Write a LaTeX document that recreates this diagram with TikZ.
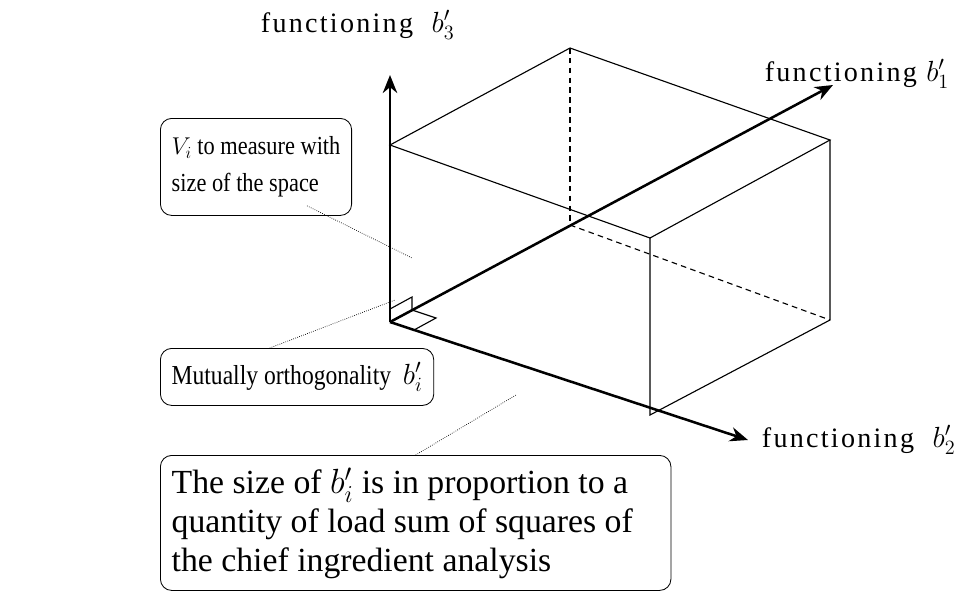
\documentclass[tikz,border=0pt]{standalone}
\usepackage{fontspec}
\setmainfont{Liberation Serif}
\newfontfamily\spacedfont[LetterSpace=8]{Liberation Serif}
\newfontfamily\narrowfont[FakeStretch=0.86]{Liberation Serif}
\usepackage{xcolor}
\usetikzlibrary{arrows.meta,positioning,calc}

\tikzset{
  axis/.style={line width=1.8pt, -{Stealth[length=4.5mm,width=3.6mm]}},
  edge/.style={line width=0.8pt},
  hidden/.style={line width=0.8pt, dashed, dash pattern=on 4pt off 3pt},
  leader/.style={line width=0.5pt, densely dotted},
  callout/.style={draw, line width=0.6pt, rounded corners=8pt, align=flush left,
    inner xsep=8pt, inner ysep=6pt, anchor=north west},
  axislabel/.style={font=\spacedfont\fontsize{20}{22}\selectfont}
}

\begin{document}
\begin{tikzpicture}[x=0.025cm, y=-0.025cm]
    \useasboundingbox (0,0) rectangle (956,595);

    % Origin and axis tips
    \coordinate (O) at (390,322);
    \coordinate (T3) at (390,75);
    \coordinate (T1) at (833,85);
    \coordinate (T2) at (748,440);

    % Box corners
    \coordinate (A) at (390,145);
    \coordinate (B) at (570,48);
    \coordinate (C) at (830,140);
    \coordinate (D) at (650,238);
    \coordinate (E) at (650,415);
    \coordinate (F) at (830,320);
    \coordinate (G) at (570,225);

    % Visible edges
    \draw[edge] (A) -- (B) -- (C) -- (D) -- cycle;
    \draw[edge] (D) -- (E) -- (F) -- (C);
    \draw[edge] (A) -- (O);

    % Hidden edges
    \draw[hidden] (B) -- (G);
    \draw[hidden] (G) -- (F);

    % Axes
    \draw[axis] (O) -- (T3);
    \draw[axis] (O) -- (T1);
    \draw[axis] (O) -- (T2);

    % Axis labels
    \node[axislabel, anchor=west] (L3) at (256,25) {functioning~ $b'_3$};
    \node[axislabel, anchor=east] (L1) at (954,74) {functioning $b'_1$};
    \node[axislabel, anchor=west] (L2) at (757,440) {functioning~ $b'_2$};

    % Right angle marks
    \draw[edge] ($(O)+(0,-13)$) -- ($(O)+(22,-25)$) -- ($(O)+(22,-12)$);
    \draw[edge] ($(O)+(22,-12)$) -- ($(O)+(46,-4)$) -- ($(O)+(24,8)$);

    % Callouts
    \node[callout, font=\narrowfont\fontsize{18.5}{26}\selectfont,
      minimum height=97*0.025cm] (V) at (160,118)
      {$V_i$ to measure with\\size of the space};
    \node[callout, font=\narrowfont\fontsize{19.5}{26}\selectfont,
      minimum height=57*0.025cm] (M) at (160,348)
      {Mutually orthogonality~ $b'_i$};
    \node[callout, font=\fontsize{24}{27.5}\selectfont, text width=488*0.025cm,
      minimum height=135*0.025cm] (S) at (160,455)
      {The size of $b'_i$ is in proportion to a\\quantity of load sum of squares of\\the chief ingredient analysis};

    % Leaders
    \coordinate (pV) at (412,258);
    \coordinate (pM) at (395,300);
    \coordinate (pS) at (516,395);
    \draw[leader] (V.south east) ++(-45,-10) coordinate (sV) -- (pV);
    \draw[leader] ($(M.north west)!0.4!(M.north east)$) -- (pM);
    \draw[leader] ($(S.north west)!0.5!(S.north east)$) -- (pS);
\end{tikzpicture}
\end{document}
